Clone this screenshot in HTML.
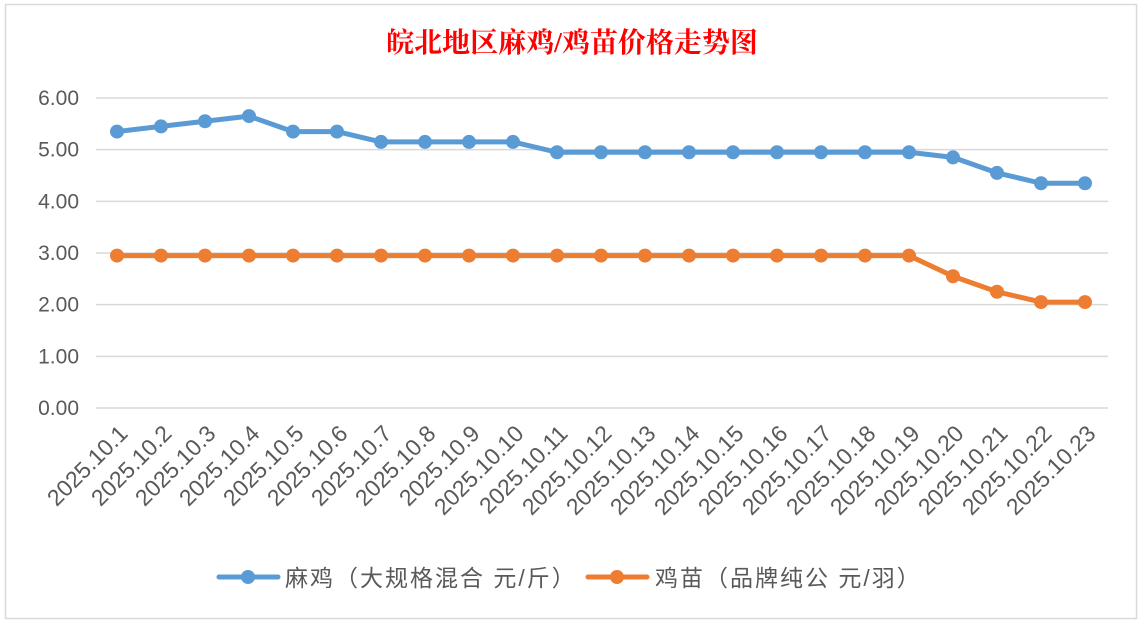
<!DOCTYPE html>
<html><head><meta charset="utf-8"><style>
body{margin:0;background:#fff;}
svg{display:block;font-family:"Liberation Sans","Noto Sans CJK SC",sans-serif;}
</style></head><body>
<svg id="chart" width="1144" height="624">
<rect x="0" y="0" width="1144" height="624" fill="#fff"/>
<rect x="5.5" y="4.5" width="1131" height="614" fill="#fff" stroke="#d9d9d9" stroke-width="1.5"/>
<text x="572" y="52" text-anchor="middle" fill="#ff0000" font-size="28" font-weight="bold" font-family="'Liberation Serif','Noto Serif CJK SC',serif">皖北地区麻鸡/鸡苗价格走势图</text>
<g id="grid"></g><g id="ylab"></g><g id="xlab"></g><g id="series"></g>
<g>
<g><line x1="219" y1="577" x2="278" y2="577" stroke="#5b9bd5" stroke-width="5" stroke-linecap="round"/><circle cx="248" cy="577" r="7" fill="#5b9bd5"/><text x="285" y="586" font-size="23" letter-spacing="2" fill="#595959">麻鸡（大规格混合 元/斤）</text></g>
<g><line x1="588" y1="577" x2="647" y2="577" stroke="#ed7d31" stroke-width="5" stroke-linecap="round"/><circle cx="617" cy="577" r="7" fill="#ed7d31"/><text x="655" y="586" font-size="23" letter-spacing="2" fill="#595959">鸡苗（品牌纯公 元/羽）</text></g>
</g>
</svg>
<script>
const categories=["2025.10.1","2025.10.2","2025.10.3","2025.10.4","2025.10.5","2025.10.6","2025.10.7","2025.10.8","2025.10.9","2025.10.10","2025.10.11","2025.10.12","2025.10.13","2025.10.14","2025.10.15","2025.10.16","2025.10.17","2025.10.18","2025.10.19","2025.10.20","2025.10.21","2025.10.22","2025.10.23"];
const chickenValues=[5.35,5.45,5.55,5.65,5.35,5.35,5.15,5.15,5.15,5.15,4.95,4.95,4.95,4.95,4.95,4.95,4.95,4.95,4.95,4.85,4.55,4.35,4.35];
const chickValues=[2.95,2.95,2.95,2.95,2.95,2.95,2.95,2.95,2.95,2.95,2.95,2.95,2.95,2.95,2.95,2.95,2.95,2.95,2.95,2.55,2.25,2.05,2.05];
const yTicks=[0,1,2,3,4,5,6];
const NS="http://www.w3.org/2000/svg";
const x=i=>117+i*(1085-117)/(categories.length-1);
const y=v=>408-v*(408-98)/6;
function mk(t,a,p){const e=document.createElementNS(NS,t);for(const k in a)e.setAttribute(k,a[k]);p.appendChild(e);return e;}
const grid=document.getElementById('grid'),ylab=document.getElementById('ylab'),xlab=document.getElementById('xlab'),ser=document.getElementById('series');
yTicks.forEach(v=>{
 const l=mk('line',{x1:96,x2:1108,y1:y(v),y2:y(v),stroke:'#d9d9d9','stroke-width':1.5},grid);
 
 
 const t=mk('text',{x:79,y:y(v)+7,'text-anchor':'end','font-size':21,fill:'#595959'},ylab);
 t.textContent=v.toFixed(2);
 
 
});
categories.forEach((c,i)=>{
 const t=mk('text',{x:x(i)+12,y:435,'text-anchor':'end','font-size':23,fill:'#595959',transform:`rotate(-45 ${x(i)+12} 435)`},xlab);
 t.textContent=c;
 
 
});
function draw(vals,color,name){
 const g=mk('g',{},ser);
 
 
 mk('polyline',{points:vals.map((v,i)=>x(i)+','+y(v)).join(' '),fill:'none',stroke:color,'stroke-width':5,'stroke-linejoin':'round'},g);
 vals.forEach((v,i)=>{
  const c=mk('circle',{cx:x(i),cy:y(v),r:7,fill:color},g);
  
  
 });
}
draw(chickenValues,'#5b9bd5','chicken-series');
draw(chickValues,'#ed7d31','chick-series');
</script>
</body></html>
